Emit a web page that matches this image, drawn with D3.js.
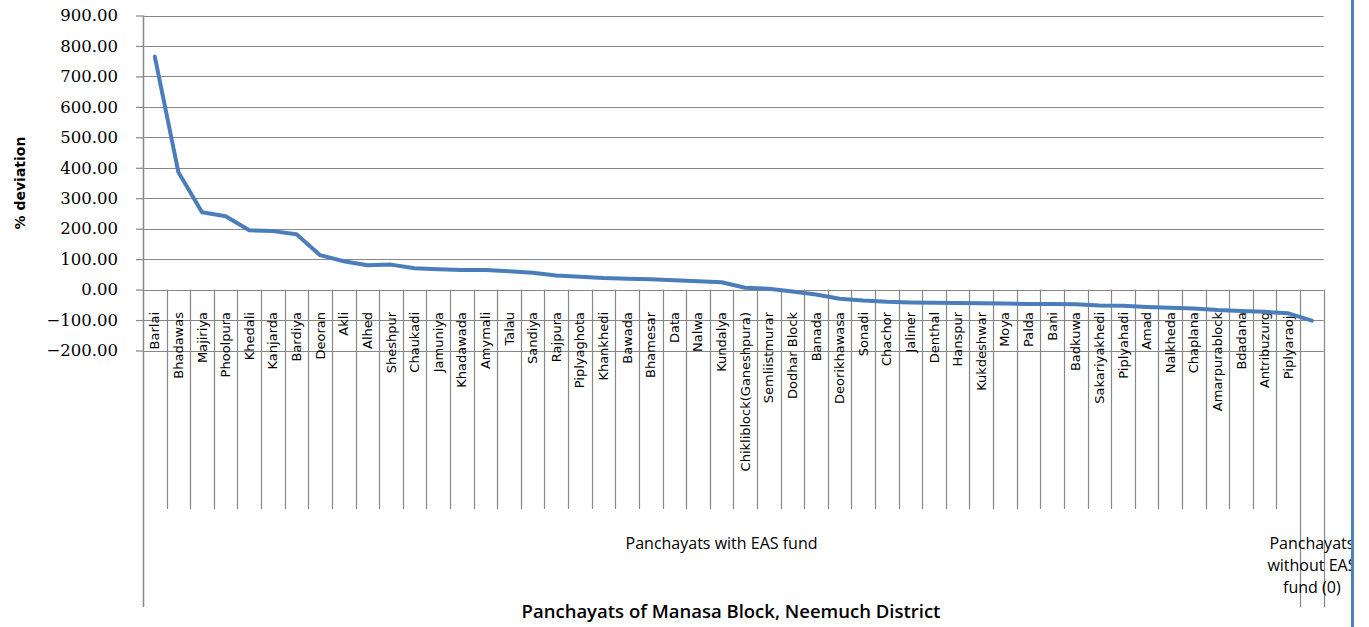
<!DOCTYPE html>
<html>
<head>
<meta charset="utf-8">
<script src="https://cdn.jsdelivr.net/npm/d3@7"></script>
<style>
  html, body { margin: 0; padding: 0; background: #fff; }
  svg { display: block; }
</style>
</head>
<body>
<svg id="chart" width="1369" height="627"></svg>
<script>
// ---- data ----
const panchayats = ["Barlai","Bhadawas","Majiriya","Phoolpura","Khedali","Kanjarda","Bardiya","Deoran","Akli","Alhed","Sheshpur","Chaukadi","Jamuniya","Khadawada","Amymali","Talau","Sandiya","Rajpura","Piplyaghota","Khankhedi","Bawada","Bhamesar","Data","Nalwa","Kundalya","Chikliblock(Ganeshpura)","Semliistmurar","Dodhar Block","Banada","Deorikhawasa","Sonadi","Chachor","Jaliner","Denthal","Hanspur","Kukdeshwar","Moya","Palda","Bani","Badkuwa","Sakariyakhedi","Piplyahadi","Amad","Nalkheda","Chaplana","Amarpurablock","Bdadana","Antribuzurg","Piplyaraoji",""];
const deviation = [765, 385, 254, 241, 195, 192, 182, 113, 93, 80, 82, 70, 67, 64, 64, 60, 55, 46, 42, 38, 36, 34, 31, 27, 24, 6, 3, -6, -16, -30, -36, -40, -42, -43, -44, -45, -46, -47, -47, -48, -52, -53, -57, -60, -62, -67, -70, -73, -78, -102];
const groupNames = ["Panchayats with EAS fund", "Panchayats without EAS fund (0)"];
const groupSizes = [49, 1];
const yTicks = [-200, -100, 0, 100, 200, 300, 400, 500, 600, 700, 800, 900];
const yTitle = "% deviation";
const xTitle = "Panchayats of Manasa Block, Neemuch District";

// ---- layout ----
const svg = d3.select("#chart");
const L = 143, R = 1323.7, T = 15.5, B = 350.5;
const innerTickBottom = 509, groupTickBottom = 607;
const gridColor = "#878787";

const x = d3.scaleBand().domain(d3.range(panchayats.length)).range([L, R]).padding(0);
const y = d3.scaleLinear().domain([-200, 900]).range([B, T]);
const cx = i => x(i) + x.bandwidth() / 2;

svg.append("defs").append("clipPath").attr("id", "pageclip")
  .append("rect").attr("x", 0).attr("y", 0).attr("width", 1351).attr("height", 627);

const root = svg.append("g").attr("clip-path", "url(#pageclip)");

// horizontal gridlines
root.append("g").selectAll("line").data(yTicks).join("line")
  .attr("x1", L).attr("x2", R)
  .attr("y1", d => Math.round(y(d)) + 0.5).attr("y2", d => Math.round(y(d)) + 0.5)
  .attr("stroke", gridColor).attr("stroke-width", 1.2);

// y axis
const yAxis = d3.axisLeft(y).tickValues(yTicks).tickFormat(d3.format(".2f")).tickSize(7).tickPadding(18);
const gy = root.append("g").attr("transform", `translate(${L},0)`).call(yAxis);
gy.select(".domain").remove();
gy.selectAll(".tick line").attr("stroke", gridColor).attr("stroke-width", 1.2);
gy.selectAll(".tick text").attr("font-family", "DejaVu Serif").attr("font-size", 16.5).attr("fill", "#000");

// left axis line
root.append("line").attr("x1", L + 0.5).attr("x2", L + 0.5).attr("y1", T).attr("y2", groupTickBottom)
  .attr("stroke", gridColor).attr("stroke-width", 1.5);

// category separators
const boundaries = d3.range(1, panchayats.length + 1);
const groupEnds = d3.cumsum(groupSizes);
root.append("g").selectAll("line").data(boundaries).join("line")
  .attr("x1", i => Math.round(x(i - 1) + x.bandwidth()) + 0.5)
  .attr("x2", i => Math.round(x(i - 1) + x.bandwidth()) + 0.5)
  .attr("y1", y(0))
  .attr("y2", i => groupEnds.includes(i) ? groupTickBottom : innerTickBottom)
  .attr("stroke", gridColor).attr("stroke-width", 1.2);

// category labels
root.append("g").selectAll("text").data(panchayats).join("text")
  .attr("transform", (d, i) => `translate(${cx(i)},312) rotate(-90)`)
  .attr("text-anchor", "end").attr("dy", "0.35em")
  .attr("font-family", "DejaVu Sans").attr("font-size", 13).attr("fill", "#000")
  .text(d => d);

// group labels
let start = 0;
groupNames.forEach((g, gi) => {
  const s = start, e = start + groupSizes[gi] - 1;
  start += groupSizes[gi];
  const mid = (x(s) + x(e) + x.bandwidth()) / 2;
  const t = root.append("text").attr("x", mid).attr("text-anchor", "middle")
    .attr("font-family", "Open Sans").attr("font-size", 16).attr("fill", "#000");
  if (groupSizes[gi] > 1) {
    t.attr("y", 549).text(g);
  } else {
    const lines = ["Panchayats", "without EAS", "fund (0)"];
    lines.forEach((ln, k) => t.append("tspan").attr("x", mid).attr("y", 549 + k * 22).text(ln));
  }
});

// data line
root.append("path").datum(deviation)
  .attr("d", d3.line().x((d, i) => cx(i)).y(d => y(d)))
  .attr("fill", "none").attr("stroke", "#4a7ebb").attr("stroke-width", 4)
  .attr("stroke-linejoin", "round").attr("stroke-linecap", "round");

// axis titles
root.append("text").attr("transform", `translate(25,${(T + B) / 2}) rotate(-90)`)
  .attr("text-anchor", "middle").attr("font-family", "DejaVu Sans").attr("font-weight", "bold")
  .attr("font-size", 14).attr("fill", "#000").text(yTitle);

root.append("text").attr("x", 731).attr("y", 618).attr("text-anchor", "middle")
  .attr("font-family", "Open Sans").attr("font-weight", "600").attr("font-size", 18.5).attr("fill", "#000")
  .text(xTitle);

// right blue border
svg.append("line").attr("x1", 1352.5).attr("x2", 1352.5).attr("y1", 0).attr("y2", 627)
  .attr("stroke", "#4f81bd").attr("stroke-width", 3);
</script>
</body>
</html>
